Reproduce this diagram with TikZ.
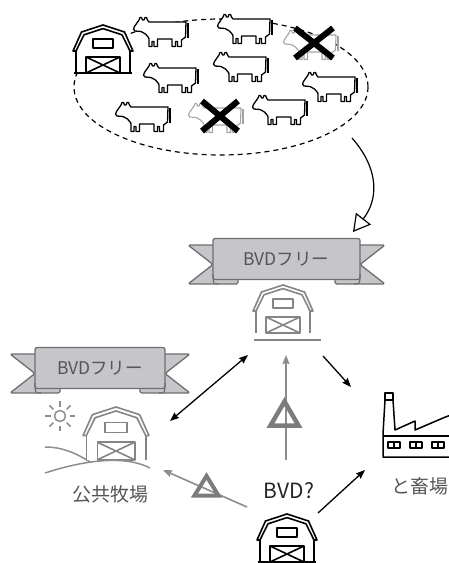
\documentclass[tikz,border=0pt]{standalone}
\usepackage{fontspec}
\setmainfont{Noto Sans CJK JP}
\usetikzlibrary{arrows.meta}

\definecolor{barngray}{HTML}{858585}
\definecolor{crossgray}{HTML}{A4A4A4}
\definecolor{ribbonfill}{HTML}{C6C6CA}
\definecolor{ribbonedge}{HTML}{6E6E6E}
\definecolor{labelgray}{HTML}{555555}
\definecolor{warngray}{HTML}{7C7C7C}
\definecolor{linkgray}{HTML}{8C8C8C}
\definecolor{fieldgray}{HTML}{8E8E8E}

\tikzset{
  ribbon hw/.store in=\ribhw, ribbon hw=70,
  % gambrel barn, origin at the top-left, 60 wide and 48 high
  barnbody/.pic={
    \path[fill=white] (0,26) -- (8.5,7) -- (30,0) -- (51.5,7) -- (60,26) -- (57,26)
      -- (57,48) -- (3,48) -- (3,26) -- cycle;
    \draw (0,26) -- (8.5,7) -- (30,0) -- (51.5,7) -- (60,26) -- (57,26)
      -- (49,9.8) -- (30,3.6) -- (11,9.8) -- (3,26) -- cycle;
    \draw (3,26) -- (3,48) (57,26) -- (57,48);
    \draw (20,14) rectangle (40,23);
    \draw (13,32) rectangle (47,48);
    \draw (13,32) -- (47,48) (13,48) -- (47,32);
  },
  barn/.pic={
    \pic {barnbody};
    \draw (1,48) -- (59,48);
  },
  % cow facing left, origin at the top-left
  cow/.pic={
    \path[draw, fill=white] (53,7) -- (16,7) -- (14.5,5) -- (13.5,2.5) -- (12,2.5) -- (11,5)
      -- (9.5,5) -- (8.5,2.5) -- (7,2.5) -- (6,5) -- (1.5,11.5) -- (0.5,14)
      -- (2,16) -- (8,16.5) -- (12.5,19) -- (15.5,22.5) -- (16,24)
      -- (16,31.5) -- (19,31.5) -- (19,26.5) -- (21,26.5) -- (21,31.5) -- (24.5,31.5) -- (24.5,24)
      -- (39,24) -- (39,31.5) -- (42.5,31.5) -- (42.5,26.5) -- (44.5,26.5) -- (44.5,31.5)
      -- (48.5,31.5) -- (48.5,25) -- (52.5,22) -- cycle;
    \draw[line width=2.4] (55,8) -- (55,23);
  },
  % ribbon banner centred on the origin
  ribbon/.pic={
    \foreach \s in {-1,1} {
      \begin{scope}[xscale=\s]
        \path[draw=ribbonedge, fill=ribbonfill, line width=1.3, rounded corners=1.5]
          (-\ribhw-25,-14) -- (-\ribhw+25,-14) -- (-\ribhw+25,25) -- (-\ribhw-25,25)
          -- (-\ribhw,5.5) -- cycle;
      \end{scope}
    }
    \path[draw=ribbonedge, fill=ribbonfill, line width=1.3, rounded corners=2]
      (-\ribhw,-20.5) rectangle (\ribhw,20.5);
    \foreach \s in {-1,1} {
      \begin{scope}[xscale=\s]
        \draw[ribbonedge, line width=1.1] (-\ribhw,15) .. controls (-\ribhw,25) .. (-\ribhw+6,25);
      \end{scope}
    }
  },
  herdcow/.style={color=black, line width=1.3},
  lostcow/.style={color=crossgray, line width=1.1},
  cross/.style={line width=6, line cap=butt},
  bannertext/.style={text=labelgray, font=\fontsize{17.5}{20}\selectfont, anchor=base, inner sep=0},
  placetext/.style={text=labelgray, font=\fontsize{19}{22}\selectfont, inner sep=0},
  link/.style={line width=1.3, -{Stealth[length=9,width=7,inset=1]}},
  graylink/.style={draw=linkgray, line width=1.6, -{Stealth[length=9,width=7,inset=1]}},
  warn/.style={draw=warngray, line width=4.5, line join=miter},
}

\begin{document}
\begin{tikzpicture}[x=1pt, y=-1pt, line join=round]
\useasboundingbox (0,0) rectangle (449,563);
\clip (0,0) rectangle (449,563);

% ---- herd inside the farm boundary
\draw[dash pattern=on 5 off 4, line width=1.2] (221,87) ellipse [x radius=147, y radius=68];
\pic[line width=1.6] at (73,25) {barn};
\pic[herdcow] at (133,15) {cow};
\pic[herdcow] at (217,12) {cow};
\pic[lostcow] at (283,28) {cow};
\pic[herdcow] at (143,61) {cow};
\pic[herdcow] at (213,50) {cow};
\pic[herdcow] at (302,70) {cow};
\pic[herdcow] at (115,100) {cow};
\pic[lostcow] at (188,101) {cow};
\pic[herdcow] at (252,93) {cow};
\draw[cross] (295,28) -- (333,58) (295,58) -- (333,28);
\draw[cross] (202,101) -- (238,131) (202,131) -- (238,101);

\coordinate (herd-out) at (352,138);
\coordinate (free-in) at (353,232);
\draw[line width=1.2, -{Triangle[length=17,width=19,fill=white]}]
  (herd-out) .. controls (380,170) and (378,200) .. (free-in);

% ---- BVD-free farm
\pic[ribbon hw=73.5] at (286.5,259) {ribbon};
\node[bannertext] (free-tag) at (286.5,265.5) {BVDフリー};
\pic[scale=1.15, color=barngray, line width=1.6] at (253,285) {barn};

% ---- common pasture
\pic[ribbon hw=65] at (100,368) {ribbon};
\node[bannertext] (pasture-tag) at (100,374.5) {BVDフリー};
\begin{scope}[color=fieldgray, line width=1.5]
  \draw (60,416) circle (5.5);
  \foreach \a in {0,45,...,315} \draw (60,416) ++(\a:9.5) -- ++(\a:5.5);
  \draw (45,447) .. controls (62,447) and (76,453) .. (90,462);
\end{scope}
\pic[scale=1.1, color=barngray, line width=1.6] at (83,407) {barnbody};
\draw[fieldgray, line width=1.5] (45,473) .. controls (85,460) and (125,455) .. (150,468);
\node[placetext] (pasture-label) at (110,494) {公共牧場};

% ---- abattoir
\begin{scope}[line width=1.5]
  \draw (385,393) rectangle (393,400);
  \draw (385,400) -- (383,434) -- (383,457) -- (452,457);
  \draw (393,400) -- (395,430) -- (415,421) -- (415,430) -- (443,418) -- (452,414.5);
  \draw (383,436) -- (452,436);
  \foreach \x in {388,410,432} {
    \draw (\x,442) rectangle ++(12,6);
    \draw (\x+6,442) -- ++(0,6);
  }
\end{scope}
\node[placetext] (abattoir-label) at (420,486) {と畜場};

% ---- farm of unknown status
\node[text=black!85, font=\fontsize{21}{24}\selectfont, inner sep=0] (query-label) at (289,491) {BVD?};
\pic[line width=1.6] at (257,514) {barn};

% ---- movements between holdings
\coordinate (pasture-ne) at (170,421);
\coordinate (free-sw) at (248,355);
\coordinate (free-se) at (323,356);
\coordinate (abattoir-nw) at (351,387);
\coordinate (query-ne) at (318,513);
\coordinate (abattoir-sw) at (365,470);
\coordinate (query-n) at (286,460);
\coordinate (free-s) at (286,355);
\coordinate (query-w) at (247,507);
\coordinate (pasture-se) at (163,470);

\draw[link, {Stealth[length=9,width=7,inset=1]}-{Stealth[length=9,width=7,inset=1]}] (pasture-ne) -- (free-sw);
\draw[link] (free-se) -- (abattoir-nw);
\draw[link] (query-ne) -- (abattoir-sw);
\draw[graylink] (query-n) -- (free-s);
\draw[graylink] (query-w) -- (pasture-se);

% ---- caution marks on the uncertain movements
\draw[warn] (284.5,401.5) -- (298.5,425.5) -- (270.5,425.5) -- cycle;
\draw[warn, line width=4] (206.5,476) -- (218.5,495.5) -- (194.5,495.5) -- cycle;

\end{tikzpicture}
\end{document}
